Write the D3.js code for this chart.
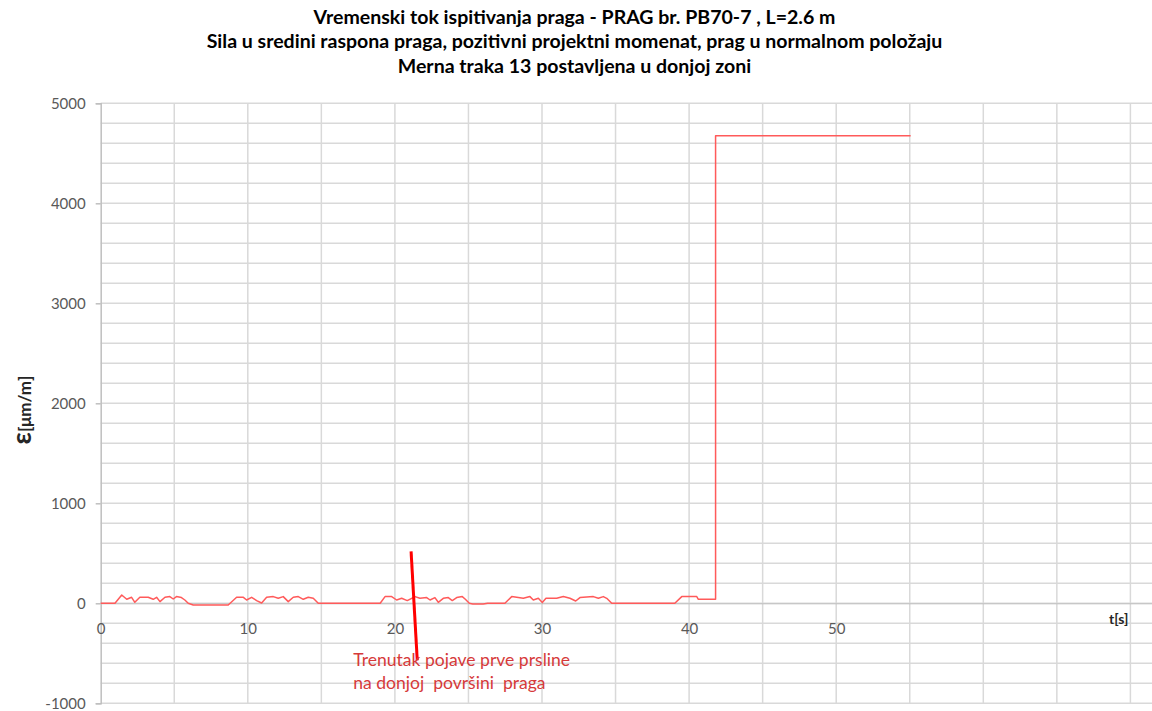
<!DOCTYPE html>
<html>
<head>
<meta charset="utf-8">
<script src="https://cdn.jsdelivr.net/npm/d3@7"></script>
<style>
  html, body { margin: 0; padding: 0; background: #ffffff; }
  svg { display: block; }
</style>
</head>
<body>
<svg id="chart" width="1152" height="711"></svg>
<script>
// ---------------- data ----------------
const titleLines = [
  "Vremenski tok ispitivanja praga - PRAG br. PB70-7 , L=2.6 m",
  "Sila u sredini raspona praga, pozitivni projektni momenat, prag u normalnom položaju",
  "Merna traka 13 postavljena u donjoj zoni"
];
const xTickLabels = [0, 10, 20, 30, 40, 50];
const yTickLabels = [-1000, 0, 1000, 2000, 3000, 4000, 5000];
const xLabel = "t[s]";
const yLabelSymbol = "ε";
const yLabelUnit = "[μm/m]";

// time [s]
const time = [
  0, 0.97, 1.43, 1.77, 2.1, 2.32, 2.66, 3.23, 3.57, 3.8, 4.03, 4.37, 4.7, 4.93, 5.15, 5.49, 5.72, 5.95, 6.29,
  8.67, 9.24, 9.7, 9.92, 10.26, 10.6, 10.94, 11.28, 11.73, 12.07, 12.41, 12.75, 13.09, 13.43, 13.77, 14.11, 14.45, 14.79,
  19.0, 19.33, 19.78, 20.12, 20.46, 20.84, 21.14, 21.37, 21.7, 22.16, 22.39, 22.72, 22.95, 23.29, 23.63, 23.9, 24.2, 24.58, 24.77, 25.06,
  25.3, 26.0, 26.3, 27.48,
  27.94, 28.73, 29.18, 29.41, 29.75, 30.02, 30.27, 31.0, 31.45, 31.9, 32.29, 32.58, 33.49, 33.83, 34.17, 34.4, 34.74,
  39.03, 39.5, 40.52, 40.63, 41.8, 41.8, 55.06
];
// strain [μm/m]
const strain = [
  0, 0, 83, 40, 60, 10, 60, 60, 40, 60, 17, 60, 67, 43, 67, 57, 33, 0, -17,
  -17, 60, 60, 33, 60, 27, 3, 60, 67, 50, 67, 17, 60, 67, 40, 60, 50, 0,
  0, 67, 67, 33, 50, 27, 50, 67, 50, 57, 33, 57, 10, 50, 57, 27, 57, 67, 43, 0,
  -6, -6, 0, 0,
  67, 50, 67, 33, 50, 7, 50, 50, 67, 50, 23, 57, 67, 50, 67, 50, 0,
  0, 67, 67, 40, 40, 4675, 4675
];

// annotation (crack moment)
const crackLine = [[21.1, 520], [21.52, -570]];
const crackText = ["Trenutak pojave prve prsline", "na donjoj  površini  praga"];

// ---------------- layout ----------------
const svg = d3.select("#chart");
const font = "Lato, 'Open Sans', sans-serif";
const plot = { left: 100.7, right: 1152, top: 103.3, bottom: 703.3 };
const pxPerSec = 14.71;

const x = d3.scaleLinear().domain([0, (plot.right - plot.left) / pxPerSec]).range([plot.left, plot.right]);
const y = d3.scaleLinear().domain([-1000, 5000]).range([plot.bottom, plot.top]);

const gridColor = "#d9d9d9";

// horizontal gridlines every 200
svg.append("g").selectAll("line")
  .data(d3.range(-1000, 5001, 200))
  .join("line")
  .attr("x1", plot.left).attr("x2", plot.right)
  .attr("y1", d => y(d)).attr("y2", d => y(d))
  .attr("stroke", gridColor).attr("stroke-width", 1.5);

// vertical gridlines every 5 s
svg.append("g").selectAll("line")
  .data(d3.range(5, x.domain()[1], 5))
  .join("line")
  .attr("x1", d => x(d)).attr("x2", d => x(d))
  .attr("y1", plot.top).attr("y2", plot.bottom)
  .attr("stroke", gridColor).attr("stroke-width", 1.5);

// y axis
const yAxis = d3.axisLeft(y).tickValues(yTickLabels).tickSize(5).tickPadding(10).tickFormat(d => String(d));
const gy = svg.append("g").attr("transform", `translate(${plot.left},0)`).call(yAxis);
gy.select(".domain").attr("stroke", "#bfbfbf").attr("stroke-width", 1.5);
gy.selectAll(".tick line").attr("stroke", "#bfbfbf").attr("stroke-width", 1.5);
gy.selectAll(".tick text").attr("font-family", font).attr("font-size", 15).attr("fill", "#595959");

// x axis (at y = 0)
const xAxis = d3.axisBottom(x).tickValues(xTickLabels).tickSize(0).tickPadding(20).tickFormat(d => String(d));
const gx = svg.append("g").attr("transform", `translate(0,${y(0)})`).call(xAxis);
gx.select(".domain").attr("stroke", "#bfbfbf").attr("stroke-width", 1);
gx.selectAll(".tick text").attr("font-family", font).attr("font-size", 15).attr("fill", "#595959");

// x axis title
svg.append("text")
  .attr("x", x(70) - 2).attr("y", y(0) + 21)
  .attr("text-anchor", "end")
  .attr("font-family", font).attr("font-size", 14).attr("font-weight", "bold").attr("fill", "#262626")
  .text(xLabel);

// y axis title
const yt = svg.append("text")
  .attr("transform", `translate(31,${410}) rotate(-90)`)
  .attr("text-anchor", "middle")
  .attr("font-family", font).attr("font-weight", "bold").attr("fill", "#262626");
yt.append("tspan").attr("font-size", 27).text(yLabelSymbol);
yt.append("tspan").attr("font-size", 17).text(yLabelUnit);

// data line
const line = d3.line().x((d, i) => x(time[i])).y((d, i) => y(strain[i]));
svg.append("path")
  .datum(strain)
  .attr("d", line)
  .attr("fill", "none")
  .attr("stroke", "#ff5a5a")
  .attr("stroke-width", 1.5)
  .attr("stroke-linejoin", "round");

// crack annotation
svg.append("line")
  .attr("x1", x(crackLine[0][0])).attr("y1", y(crackLine[0][1]))
  .attr("x2", x(crackLine[1][0])).attr("y2", y(crackLine[1][1]))
  .attr("stroke", "#ff0000").attr("stroke-width", 3);

const ct = svg.append("text")
  .attr("font-family", font).attr("font-size", 14).attr("fill", "#d63a3a")
  .attr("xml:space", "preserve").style("white-space", "pre");
crackText.forEach((t, i) => {
  ct.append("tspan").attr("x", x(17.17)).attr("y", 666 + i * 22.5).text(t);
});
// fit annotation width
{
  const first = ct.select("tspan").node();
  const w = first.getComputedTextLength();
  ct.attr("font-size", 14 * 217 / w);
}

// title
const tt = svg.append("g");
titleLines.forEach((t, i) => {
  tt.append("text")
    .attr("x", 574.5).attr("y", 24 + i * 24.3)
    .attr("text-anchor", "middle")
    .attr("font-family", font).attr("font-size", 15).attr("font-weight", "bold").attr("fill", "#000000")
    .text(t);
});
{
  const n = tt.selectAll("text").nodes()[1];
  const w = n.getComputedTextLength();
  tt.selectAll("text").attr("font-size", 15 * 736 / w);
}
</script>
</body>
</html>
